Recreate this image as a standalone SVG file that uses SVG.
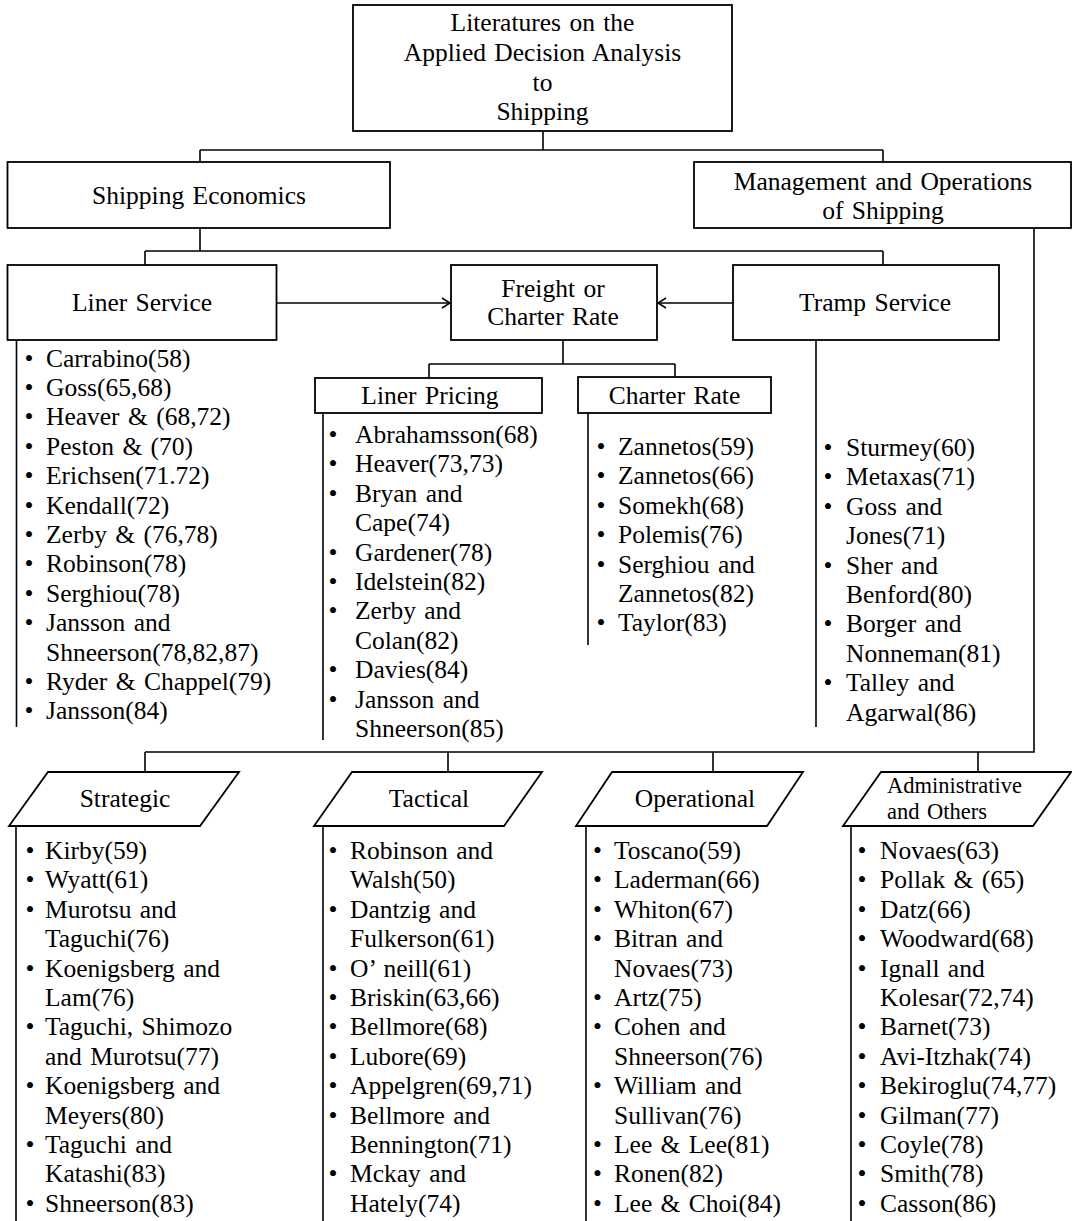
<svg xmlns="http://www.w3.org/2000/svg" width="1072" height="1221" viewBox="0 0 1072 1221">
<style>
  .bg{fill:#fff}
  .box{fill:#fff;stroke:#000;stroke-width:1.8}
  .conn{fill:none;stroke:#000;stroke-width:1.6}
  .t{font-family:"Liberation Serif","Times New Roman",serif;font-size:25.5px;fill:#000;word-spacing:2px}
  .sm{font-size:22.5px}
  .c{text-anchor:middle}
  .b{text-anchor:middle}
</style>
<defs>
  <marker id="arr" markerWidth="10" markerHeight="12" refX="9" refY="6" orient="auto" markerUnits="userSpaceOnUse">
    <path d="M1,1 L9,6 L1,11" fill="none" stroke="#000" stroke-width="1.5"/>
  </marker>
</defs>
<rect class="bg" x="0" y="0" width="1072" height="1221"/>

<g id="connectors">
  <path class="conn" d="M543,131 V150 M200,150 H883 M200,150 V162 M883,150 V162"/>
  <path class="conn" d="M200,228 V251 M145,251 H883 M145,251 V265 M883,251 V265"/>
  <path class="conn" d="M276.5,303 H450" marker-end="url(#arr)"/>
  <path class="conn" d="M733,303 H658" marker-end="url(#arr)"/>
  <path class="conn" d="M563,340 V364 M429,364 H675 M429,364 V378 M675,364 V377"/>
  <path class="conn" d="M16.5,340 V727"/>
  <path class="conn" d="M323,413 V740"/>
  <path class="conn" d="M588,413 V645"/>
  <path class="conn" d="M816,340 V727"/>
  <path class="conn" d="M1034,228 V752 H145 M145,752 V772 M448,752 V772 M713,752 V772 M978,752 V772"/>
  <path class="conn" d="M16,826 V1221 M323,826 V1221 M586,826 V1221 M851,826 V1221"/>
</g>

<g id="n-root">
  <rect class="box" x="353" y="5" width="379" height="126"/>
  <text class="t c"><tspan x="542.5" y="31">Literatures on the</tspan><tspan x="542.5" y="61">Applied Decision Analysis</tspan><tspan x="542.5" y="90.5">to</tspan><tspan x="542.5" y="120">Shipping</tspan></text>
</g>

<g id="n-shipping-economics">
  <rect class="box" x="7.5" y="162" width="382.5" height="66"/>
  <text class="t c" x="199" y="204">Shipping Economics</text>
</g>

<g id="n-management">
  <rect class="box" x="694" y="162" width="377" height="66"/>
  <text class="t c"><tspan x="883" y="190">Management and Operations</tspan><tspan x="883" y="219">of Shipping</tspan></text>
</g>

<g id="n-liner-service">
  <rect class="box" x="7.5" y="265" width="269" height="75"/>
  <text class="t c" x="142" y="311">Liner Service</text>
</g>

<g id="n-freight">
  <rect class="box" x="451" y="265" width="206" height="75"/>
  <text class="t c"><tspan x="553" y="297">Freight or</tspan><tspan x="553" y="325">Charter Rate</tspan></text>
</g>

<g id="n-tramp">
  <rect class="box" x="733" y="265" width="266" height="75"/>
  <text class="t c" x="875" y="311">Tramp Service</text>
</g>

<g id="n-liner-pricing">
  <rect class="box" x="315" y="378" width="227" height="35"/>
  <text class="t c" x="430" y="404">Liner Pricing</text>
</g>

<g id="n-charter-rate">
  <rect class="box" x="578" y="377" width="193" height="36"/>
  <text class="t c" x="674.5" y="404">Charter Rate</text>
</g>

<g id="list-liner-service">
  <text class="t b"><tspan x="29" y="366.5">•</tspan><tspan x="29" y="395.9">•</tspan><tspan x="29" y="425.3">•</tspan><tspan x="29" y="454.7">•</tspan><tspan x="29" y="484.1">•</tspan><tspan x="29" y="513.5">•</tspan><tspan x="29" y="542.9">•</tspan><tspan x="29" y="572.3">•</tspan><tspan x="29" y="601.7">•</tspan><tspan x="29" y="631.1">•</tspan><tspan x="29" y="689.9">•</tspan><tspan x="29" y="719.3">•</tspan></text>
  <text class="t"><tspan x="46" y="366.5">Carrabino(58)</tspan><tspan x="46" y="395.9">Goss(65,68)</tspan><tspan x="46" y="425.3">Heaver &amp; (68,72)</tspan><tspan x="46" y="454.7">Peston &amp; (70)</tspan><tspan x="46" y="484.1">Erichsen(71.72)</tspan><tspan x="46" y="513.5">Kendall(72)</tspan><tspan x="46" y="542.9">Zerby &amp; (76,78)</tspan><tspan x="46" y="572.3">Robinson(78)</tspan><tspan x="46" y="601.7">Serghiou(78)</tspan><tspan x="46" y="631.1">Jansson and</tspan><tspan x="46" y="660.5">Shneerson(78,82,87)</tspan><tspan x="46" y="689.9">Ryder &amp; Chappel(79)</tspan><tspan x="46" y="719.3">Jansson(84)</tspan></text>
</g>

<g id="list-liner-pricing">
  <text class="t b"><tspan x="333" y="443">•</tspan><tspan x="333" y="472.4">•</tspan><tspan x="333" y="501.8">•</tspan><tspan x="333" y="560.6">•</tspan><tspan x="333" y="590">•</tspan><tspan x="333" y="619.4">•</tspan><tspan x="333" y="678.2">•</tspan><tspan x="333" y="707.6">•</tspan></text>
  <text class="t"><tspan x="355" y="443">Abrahamsson(68)</tspan><tspan x="355" y="472.4">Heaver(73,73)</tspan><tspan x="355" y="501.8">Bryan and</tspan><tspan x="355" y="531.2">Cape(74)</tspan><tspan x="355" y="560.6">Gardener(78)</tspan><tspan x="355" y="590">Idelstein(82)</tspan><tspan x="355" y="619.4">Zerby and</tspan><tspan x="355" y="648.8">Colan(82)</tspan><tspan x="355" y="678.2">Davies(84)</tspan><tspan x="355" y="707.6">Jansson and</tspan><tspan x="355" y="737">Shneerson(85)</tspan></text>
</g>

<g id="list-charter-rate">
  <text class="t b"><tspan x="601" y="455">•</tspan><tspan x="601" y="484.4">•</tspan><tspan x="601" y="513.8">•</tspan><tspan x="601" y="543.2">•</tspan><tspan x="601" y="572.6">•</tspan><tspan x="601" y="631.4">•</tspan></text>
  <text class="t"><tspan x="618" y="455">Zannetos(59)</tspan><tspan x="618" y="484.4">Zannetos(66)</tspan><tspan x="618" y="513.8">Somekh(68)</tspan><tspan x="618" y="543.2">Polemis(76)</tspan><tspan x="618" y="572.6">Serghiou and</tspan><tspan x="618" y="602">Zannetos(82)</tspan><tspan x="618" y="631.4">Taylor(83)</tspan></text>
</g>

<g id="list-tramp">
  <text class="t b"><tspan x="828" y="456">•</tspan><tspan x="828" y="485.4">•</tspan><tspan x="828" y="514.8">•</tspan><tspan x="828" y="573.6">•</tspan><tspan x="828" y="632.4">•</tspan><tspan x="828" y="691.2">•</tspan></text>
  <text class="t"><tspan x="846" y="456">Sturmey(60)</tspan><tspan x="846" y="485.4">Metaxas(71)</tspan><tspan x="846" y="514.8">Goss and</tspan><tspan x="846" y="544.2">Jones(71)</tspan><tspan x="846" y="573.6">Sher and</tspan><tspan x="846" y="603">Benford(80)</tspan><tspan x="846" y="632.4">Borger and</tspan><tspan x="846" y="661.8">Nonneman(81)</tspan><tspan x="846" y="691.2">Talley and</tspan><tspan x="846" y="720.6">Agarwal(86)</tspan></text>
</g>

<g id="n-strategic">
  <polygon class="box" points="48,772 239,772 200,826 9,826"/>
  <text class="t c" x="125" y="807">Strategic</text>
</g>

<g id="n-tactical">
  <polygon class="box" points="352,772 542,772 504,826 314,826"/>
  <text class="t c" x="429" y="807">Tactical</text>
</g>

<g id="n-operational">
  <polygon class="box" points="612,772 803,772 767,826 576,826"/>
  <text class="t c" x="695" y="807">Operational</text>
</g>

<g id="n-administrative">
  <polygon class="box" points="881,772 1071,772 1033,826 843,826"/>
  <text class="t sm"><tspan x="887" y="793">Administrative</tspan><tspan x="887" y="819">and Others</tspan></text>
</g>

<g id="list-strategic">
  <text class="t b"><tspan x="30" y="859">•</tspan><tspan x="30" y="888.4">•</tspan><tspan x="30" y="917.8">•</tspan><tspan x="30" y="976.6">•</tspan><tspan x="30" y="1035.4">•</tspan><tspan x="30" y="1094.2">•</tspan><tspan x="30" y="1153">•</tspan><tspan x="30" y="1211.8">•</tspan></text>
  <text class="t"><tspan x="45" y="859">Kirby(59)</tspan><tspan x="45" y="888.4">Wyatt(61)</tspan><tspan x="45" y="917.8">Murotsu and</tspan><tspan x="45" y="947.2">Taguchi(76)</tspan><tspan x="45" y="976.6">Koenigsberg and</tspan><tspan x="45" y="1006">Lam(76)</tspan><tspan x="45" y="1035.4">Taguchi, Shimozo</tspan><tspan x="45" y="1064.8">and Murotsu(77)</tspan><tspan x="45" y="1094.2">Koenigsberg and</tspan><tspan x="45" y="1123.6">Meyers(80)</tspan><tspan x="45" y="1153">Taguchi and</tspan><tspan x="45" y="1182.4">Katashi(83)</tspan><tspan x="45" y="1211.8">Shneerson(83)</tspan></text>
</g>

<g id="list-tactical">
  <text class="t b"><tspan x="333" y="859">•</tspan><tspan x="333" y="917.8">•</tspan><tspan x="333" y="976.6">•</tspan><tspan x="333" y="1006">•</tspan><tspan x="333" y="1035.4">•</tspan><tspan x="333" y="1064.8">•</tspan><tspan x="333" y="1094.2">•</tspan><tspan x="333" y="1123.6">•</tspan><tspan x="333" y="1182.4">•</tspan></text>
  <text class="t"><tspan x="350" y="859">Robinson and</tspan><tspan x="350" y="888.4">Walsh(50)</tspan><tspan x="350" y="917.8">Dantzig and</tspan><tspan x="350" y="947.2">Fulkerson(61)</tspan><tspan x="350" y="976.6">O’ neill(61)</tspan><tspan x="350" y="1006">Briskin(63,66)</tspan><tspan x="350" y="1035.4">Bellmore(68)</tspan><tspan x="350" y="1064.8">Lubore(69)</tspan><tspan x="350" y="1094.2">Appelgren(69,71)</tspan><tspan x="350" y="1123.6">Bellmore and</tspan><tspan x="350" y="1153">Bennington(71)</tspan><tspan x="350" y="1182.4">Mckay and</tspan><tspan x="350" y="1211.8">Hately(74)</tspan></text>
</g>

<g id="list-operational">
  <text class="t b"><tspan x="597.5" y="859">•</tspan><tspan x="597.5" y="888.4">•</tspan><tspan x="597.5" y="917.8">•</tspan><tspan x="597.5" y="947.2">•</tspan><tspan x="597.5" y="1006">•</tspan><tspan x="597.5" y="1035.4">•</tspan><tspan x="597.5" y="1094.2">•</tspan><tspan x="597.5" y="1153">•</tspan><tspan x="597.5" y="1182.4">•</tspan><tspan x="597.5" y="1211.8">•</tspan></text>
  <text class="t"><tspan x="614" y="859">Toscano(59)</tspan><tspan x="614" y="888.4">Laderman(66)</tspan><tspan x="614" y="917.8">Whiton(67)</tspan><tspan x="614" y="947.2">Bitran and</tspan><tspan x="614" y="976.6">Novaes(73)</tspan><tspan x="614" y="1006">Artz(75)</tspan><tspan x="614" y="1035.4">Cohen and</tspan><tspan x="614" y="1064.8">Shneerson(76)</tspan><tspan x="614" y="1094.2">William and</tspan><tspan x="614" y="1123.6">Sullivan(76)</tspan><tspan x="614" y="1153">Lee &amp; Lee(81)</tspan><tspan x="614" y="1182.4">Ronen(82)</tspan><tspan x="614" y="1211.8">Lee &amp; Choi(84)</tspan></text>
</g>

<g id="list-administrative">
  <text class="t b"><tspan x="862" y="859">•</tspan><tspan x="862" y="888.4">•</tspan><tspan x="862" y="917.8">•</tspan><tspan x="862" y="947.2">•</tspan><tspan x="862" y="976.6">•</tspan><tspan x="862" y="1035.4">•</tspan><tspan x="862" y="1064.8">•</tspan><tspan x="862" y="1094.2">•</tspan><tspan x="862" y="1123.6">•</tspan><tspan x="862" y="1153">•</tspan><tspan x="862" y="1182.4">•</tspan><tspan x="862" y="1211.8">•</tspan></text>
  <text class="t"><tspan x="880" y="859">Novaes(63)</tspan><tspan x="880" y="888.4">Pollak &amp; (65)</tspan><tspan x="880" y="917.8">Datz(66)</tspan><tspan x="880" y="947.2">Woodward(68)</tspan><tspan x="880" y="976.6">Ignall and</tspan><tspan x="880" y="1006">Kolesar(72,74)</tspan><tspan x="880" y="1035.4">Barnet(73)</tspan><tspan x="880" y="1064.8">Avi-Itzhak(74)</tspan><tspan x="880" y="1094.2">Bekiroglu(74,77)</tspan><tspan x="880" y="1123.6">Gilman(77)</tspan><tspan x="880" y="1153">Coyle(78)</tspan><tspan x="880" y="1182.4">Smith(78)</tspan><tspan x="880" y="1211.8">Casson(86)</tspan></text>
</g>
</svg>
